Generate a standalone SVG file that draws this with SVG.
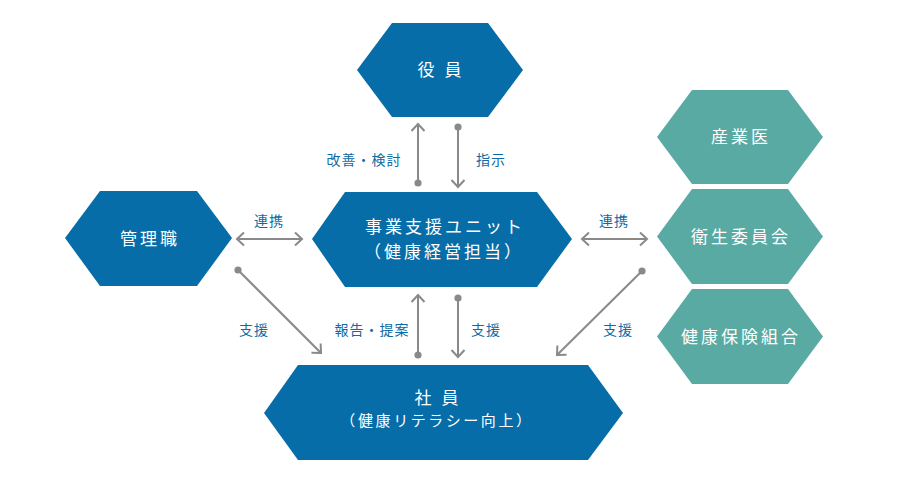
<svg xmlns="http://www.w3.org/2000/svg" width="900" height="481" viewBox="0 0 900 481">
<style>
.hb{fill:#066da8}
.ht{fill:#5aaaa4}
.nt{font-family:"Noto Sans CJK JP","Noto Sans",sans-serif;font-size:17px;fill:#fff;text-anchor:middle;letter-spacing:3px}
.sm{font-size:15px;letter-spacing:2.6px}
.lb{font-family:"Noto Sans CJK JP","Noto Sans",sans-serif;font-size:14px;fill:#0f6aa3;text-anchor:middle;letter-spacing:1px}
.cn{stroke:#898989;stroke-width:2;fill:none}
</style>
<defs>
<marker id="arr" viewBox="-10 -8 12 16" refX="0" refY="0" markerWidth="12" markerHeight="16" markerUnits="userSpaceOnUse" orient="auto-start-reverse"><path d="M-7,-6.5 L0,0 L-7,6.5" fill="none" stroke="#898989" stroke-width="2"/></marker>
<marker id="dot" viewBox="-5 -5 10 10" refX="0" refY="0" markerWidth="10" markerHeight="10" markerUnits="userSpaceOnUse"><circle r="3.6" fill="#898989"/></marker>
</defs>
<rect width="900" height="481" fill="#fff"/>
<g id="yakuin"><polygon class="hb" points="357,70 392,23 488,23 523,70 488,117 392,117"/><text class="nt" x="441" y="76">役 員</text></g>
<g id="kanrishoku"><polygon class="hb" points="65,238 100,191 197,191 232,238 197,286 100,286"/><text class="nt" x="150" y="245">管理職</text></g>
<g id="unit"><polygon class="hb" points="312,239 345,192 537,192 572,239 537,287 345,287"/><text class="nt" x="445" y="233">事業支援ユニット</text><text class="nt" x="444" y="258">（健康経営担当）</text></g>
<g id="sangyoui"><polygon class="ht" points="657,137 692,90 788,90 823,137 788,184 692,184"/><text class="nt" x="741" y="143">産業医</text></g>
<g id="eisei"><polygon class="ht" points="657,236.5 692,189 788,189 823,236.5 788,284 692,284"/><text class="nt" x="741" y="243">衛生委員会</text></g>
<g id="kenpo"><polygon class="ht" points="657,336.5 692,289 788,289 823,336.5 788,384 692,384"/><text class="nt" x="741" y="343">健康保険組合</text></g>
<g id="shain"><polygon class="hb" points="264,413 298,365 588,365 623,413 588,460 298,460"/><text class="nt" x="438" y="404">社 員</text><text class="nt sm" x="437" y="426">（健康リテラシー向上）</text></g>
<g id="connectors">
<path class="cn" d="M418,183 L418,124" marker-start="url(#dot)" marker-end="url(#arr)"/>
<path class="cn" d="M458,127 L458,187" marker-start="url(#dot)" marker-end="url(#arr)"/>
<path class="cn" d="M237,239 L302,239" marker-start="url(#arr)" marker-end="url(#arr)"/>
<path class="cn" d="M582,239 L647,239" marker-start="url(#arr)" marker-end="url(#arr)"/>
<path class="cn" d="M238,270 L321,353" marker-start="url(#dot)" marker-end="url(#arr)"/>
<path class="cn" d="M418,355 L418,295" marker-start="url(#dot)" marker-end="url(#arr)"/>
<path class="cn" d="M458,298 L458,357" marker-start="url(#dot)" marker-end="url(#arr)"/>
<path class="cn" d="M642,271 L557,355" marker-start="url(#dot)" marker-end="url(#arr)"/>
<text class="lb" x="364" y="165">改善・検討</text>
<text class="lb" x="491" y="165">指示</text>
<text class="lb" x="269" y="226">連携</text>
<text class="lb" x="614" y="226">連携</text>
<text class="lb" x="254" y="335">支援</text>
<text class="lb" x="372" y="335">報告・提案</text>
<text class="lb" x="486" y="335">支援</text>
<text class="lb" x="618" y="335">支援</text>
</g>
</svg>
